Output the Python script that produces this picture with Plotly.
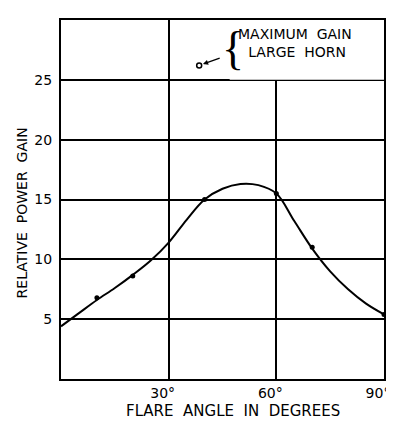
import plotly.graph_objects as go

# smooth curve
curve_angle = [0, 5, 10, 15, 20, 25, 30, 35, 40, 45, 50, 55, 60, 65, 70, 75, 80, 85, 90]
curve_gain = [4.4, 5.5, 6.6, 7.6, 8.7, 9.9, 11.4, 13.3, 15.0, 15.9, 16.3, 16.2, 15.5, 13.2, 10.9, 9.0, 7.5, 6.3, 5.4]

# measured points
meas_angle = [10, 20, 40, 60, 70, 90]
meas_gain = [6.8, 8.6, 15.0, 15.5, 11.0, 5.4]

# maximum gain, large horn
max_angle = [38.5]
max_gain = [26.2]

x_ticks = [30, 60, 90]
x_tick_text = ["30°", "60°", "90°"]
y_ticks = [5, 10, 15, 20, 25]

FONT = "DejaVu Sans"

fig = go.Figure()
fig.add_trace(go.Scatter(x=curve_angle, y=curve_gain, mode="lines",
                         line=dict(color="black", width=2, shape="spline", smoothing=1.0),
                         hoverinfo="skip"))
fig.add_trace(go.Scatter(x=meas_angle, y=meas_gain, mode="markers",
                         marker=dict(color="black", size=5)))
fig.add_trace(go.Scatter(x=max_angle, y=max_gain, mode="markers",
                         marker=dict(color="white", size=5, line=dict(color="black", width=1.5))))

# white box behind the note (covers grid)
fig.add_shape(type="rect", xref="x", yref="y", x0=47, x1=90, y0=25, y1=30,
              fillcolor="white", line=dict(width=0), layer="between")

fig.add_annotation(x=65.3, y=28.1, xref="x", yref="y", showarrow=False,
                   text="MAXIMUM  GAIN<br> LARGE  HORN", align="center",
                   font=dict(family=FONT, size=14, color="black"))
fig.add_annotation(x=48.0, y=27.6, xref="x", yref="y", showarrow=False,
                   text="{", font=dict(family="Liberation Serif", size=46, color="black"))
fig.add_annotation(x=max_angle[0], y=max_gain[0], xref="x", yref="y", text="",
                   showarrow=True, ax=22, ay=-8, arrowhead=2, arrowsize=0.8,
                   arrowwidth=1.3, arrowcolor="black", standoff=4)

fig.add_annotation(x=0.534, y=-0.089, xref="paper", yref="paper", showarrow=False,
                   text="FLARE  ANGLE  IN  DEGREES", yanchor="middle",
                   font=dict(family=FONT, size=15, color="black"))
fig.add_annotation(x=-0.12, y=0.462, xref="paper", yref="paper", showarrow=False,
                   text="RELATIVE  POWER  GAIN", textangle=-90,
                   xanchor="center", yanchor="middle",
                   font=dict(family=FONT, size=14, color="black"))

fig.update_xaxes(range=[0, 90], tickvals=x_ticks, ticktext=x_tick_text,
                 showgrid=True, gridcolor="black", gridwidth=1.5,
                 showline=True, linecolor="black", linewidth=2, mirror=True,
                 ticks="", zeroline=False, automargin=False,
                 ticklabeloverflow="allow", ticklabelshift=-6,
                 tickfont=dict(family=FONT, size=14, color="black"))
fig.update_yaxes(range=[0, 30], tickvals=y_ticks,
                 showgrid=True, gridcolor="black", gridwidth=1.5,
                 showline=True, linecolor="black", linewidth=2, mirror=True,
                 ticks="", zeroline=False, ticklabelstandoff=4, automargin=False,
                 tickfont=dict(family=FONT, size=14, color="black"))

# page body has an 8px margin, so the figure is sized/offset to compensate
fig.update_layout(width=386, height=417, margin=dict(l=53, r=10, t=12, b=46),
                  plot_bgcolor="white", paper_bgcolor="white", showlegend=False)

fig.write_html("out.html")
